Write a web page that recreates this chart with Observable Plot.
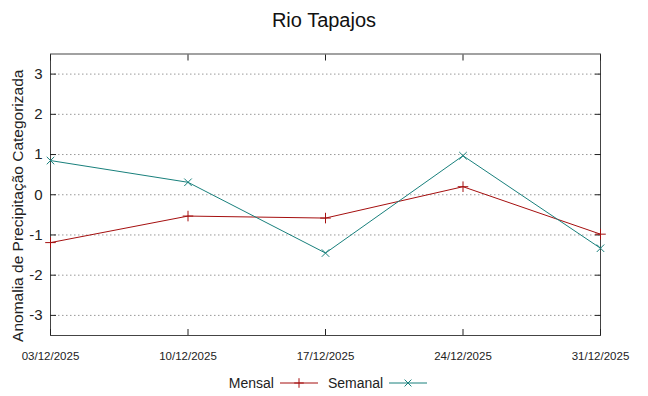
<!DOCTYPE html>
<html><head><meta charset="utf-8">
<script src="https://cdn.jsdelivr.net/npm/d3@7"></script>
<script src="https://cdn.jsdelivr.net/npm/@observablehq/plot@0.6"></script>
<style>
body{margin:0;background:#fff;font-family:"Liberation Sans",Arial,sans-serif;}
#wrap{width:648px;height:396px;position:relative;}
#title{height:40px;line-height:40px;text-align:center;font-size:20px;color:#111;}
#legend{height:26px;display:flex;justify-content:center;align-items:center;font-size:14px;color:#222;gap:0;padding-left:6px}
#legend span{margin:0 6px}
#chart svg{overflow:visible}
</style></head><body>
<div id="wrap">
<div id="title">Rio Tapajos</div>
<div id="chart"></div>
<div id="legend"></div>
</div>
<script>
const dates = ["2025-12-03","2025-12-10","2025-12-17","2025-12-24","2025-12-31"];
const mensal = [-1.19,-0.53,-0.58,0.20,-0.98];
const semanal = [0.85,0.31,-1.45,0.97,-1.33];
const yTicks = [-3,-2,-1,0,1,2,3];
const yLabel = "Anomalia de Precipitação Categorizada";
const seriesNames = ["Mensal","Semanal"];
const seriesColors = ["#a50f0f","#18807c"];
const seriesSymbols = ["plus","times"];

const parse = d3.utcParse("%Y-%m-%d");
const xDates = dates.map(parse);
const dataM = xDates.map((d,i)=>({date:d, v:mensal[i]}));
const dataS = xDates.map((d,i)=>({date:d, v:semanal[i]}));
const fmt = d3.utcFormat("%d/%m/%Y");

const plot = Plot.plot({
  width: 648, height: 330,
  marginLeft: 50, marginRight: 48, marginTop: 13.5, marginBottom: 35,
  style: {fontFamily: '"Liberation Sans", Arial, sans-serif', background: "#fff"},
  x: {type: "utc", domain: [xDates[0], xDates[xDates.length-1]]},
  y: {domain: [-3.5, 3.5]},
  marks: [
    Plot.gridY(yTicks, {stroke: "#999", strokeOpacity: 1, strokeDasharray: "1.5,2.5"}),
    Plot.frame({stroke: "#444"}),
    Plot.axisX(xDates, {anchor: "bottom", tickSize: 0, tickPadding: 16, tickFormat: fmt, fontSize: 11.5, fill: "#222", label: null}),
    Plot.axisX(xDates, {anchor: "bottom", tickSize: -6, tickFormat: () => "", label: null, stroke: "#222"}),
    Plot.axisX(xDates, {anchor: "top", tickSize: -6, tickFormat: () => "", label: null, stroke: "#222"}),
    Plot.axisY(yTicks, {anchor: "left", tickSize: 0, tickPadding: 8, fontSize: 15, fill: "#222", tickFormat: d => d, label: null}),
    Plot.axisY(yTicks, {anchor: "left", tickSize: -6, tickFormat: () => "", label: null, stroke: "#222"}),
    Plot.axisY(yTicks, {anchor: "right", tickSize: -6, tickFormat: () => "", label: null, stroke: "#222"}),
    Plot.text([yLabel], {frameAnchor: "left", textAnchor: "middle", rotate: -90, dx: -32, dy: 11, fontSize: 15.5, fill: "#222"}),
    Plot.line(dataM, {x: "date", y: "v", stroke: seriesColors[0], strokeWidth: 1}),
    Plot.dot(dataM, {x: "date", y: "v", stroke: seriesColors[0], symbol: seriesSymbols[0], r: 3.5, strokeWidth: 1}),
    Plot.line(dataS, {x: "date", y: "v", stroke: seriesColors[1], strokeWidth: 1}),
    Plot.dot(dataS, {x: "date", y: "v", stroke: seriesColors[1], symbol: seriesSymbols[1], r: 3.5, strokeWidth: 1})
  ]
});
document.getElementById("chart").appendChild(plot);

// legend
const leg = document.getElementById("legend");
seriesNames.forEach((name,i)=>{
  const s = document.createElement("span");
  s.textContent = name;
  leg.appendChild(s);
  const sw = d3.create("svg").attr("width",38).attr("height",12).style("margin-right","4px");
  sw.append("line").attr("x1",0).attr("x2",38).attr("y1",6).attr("y2",6).attr("stroke",seriesColors[i]).attr("stroke-width",1);
  const sym = d3.symbol(i===0 ? d3.symbolPlus : d3.symbolTimes, 32)();
  sw.append("path").attr("d", sym).attr("transform","translate(19,6)").attr("fill","none").attr("stroke",seriesColors[i]).attr("stroke-width",1);
  leg.appendChild(sw.node());
});
</script>
</body></html>
